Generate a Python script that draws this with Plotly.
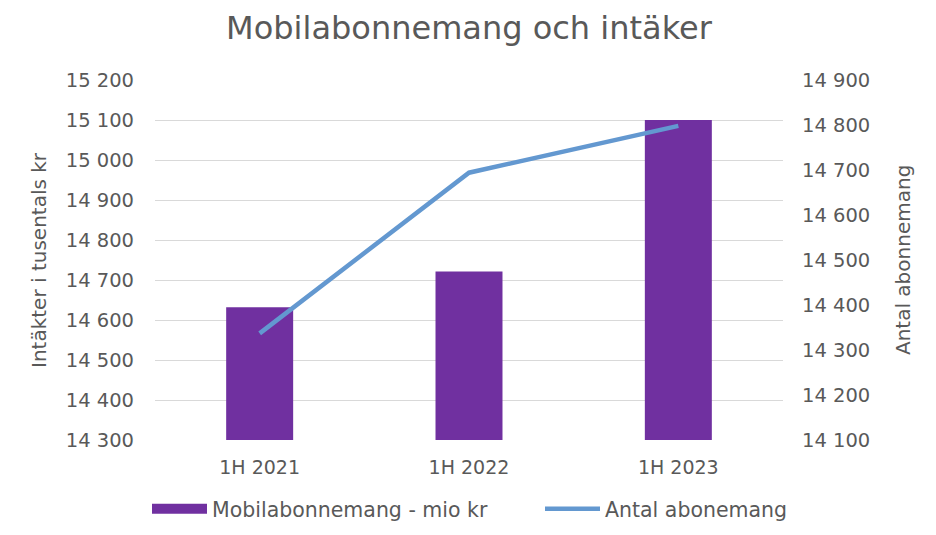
import plotly.graph_objects as go

categories = ["1H 2021", "1H 2022", "1H 2023"]
revenue = [14632, 14721, 15100]          # Mobilabonnemang - mio kr (left axis)
subscriptions = [14337, 14694, 14798]    # Antal abonemang (right axis)
left_ticks = list(range(14300, 15201, 100))
right_ticks = list(range(14100, 14901, 100))

grey = "#595959"
purple = "#7030A0"
blue = "#6398D0"
font_family = "DejaVu Sans, Liberation Sans, sans-serif"

# page body has an 8px margin, so the figure is sized to fit the 936x535 window
W, H = 920, 519
L, R, T, B = 147, 145, 72, 87
plot_w = W - L - R

fig = go.Figure()
fig.add_trace(go.Bar(
    x=categories, y=revenue, name="Mobilabonnemang - mio kr",
    marker=dict(color=purple, line=dict(width=0)), width=0.32, yaxis="y",
    showlegend=False,
))
# legend entry with wide rectangular swatch for the bars
fig.add_trace(go.Scatter(
    x=[None], y=[None], name="Mobilabonnemang - mio kr", mode="lines",
    line=dict(color=purple, width=13), yaxis="y", legend="legend",
))
fig.add_trace(go.Scatter(
    x=categories, y=subscriptions, name="Antal abonemang", mode="lines",
    line=dict(color=blue, width=4.5), yaxis="y2", legend="legend2",
))

legend_common = dict(orientation="h", xanchor="left", xref="container",
                     y=(H - 501) / H, yanchor="middle", yref="container",
                     itemwidth=55, font=dict(size=20.5, color=grey),
                     bgcolor="rgba(0,0,0,0)")

fig.update_layout(
    width=W, height=H,
    paper_bgcolor="white", plot_bgcolor="white",
    separators=", ",
    font=dict(family=font_family, color=grey, size=19),
    margin=dict(l=L, r=R, t=T, b=B, autoexpand=False),
    title=dict(text="Mobilabonnemang och intäker", x=0.5, xanchor="center",
               xref="paper", y=1 - 20 / H, yanchor="middle",
               font=dict(size=32, color=grey)),
    xaxis=dict(showgrid=False, showline=False, ticks="", ticklabelstandoff=14,
               tickfont=dict(size=19, color=grey)),
    yaxis=dict(range=[14300, 15200], tickvals=left_ticks, tickformat=",d",
               showgrid=True, gridcolor="#d9d9d9", gridwidth=1, zeroline=False,
               showline=False, ticks="", ticklabelstandoff=20,
               tickfont=dict(size=19.5, color=grey)),
    yaxis2=dict(range=[14100, 14900], tickvals=right_ticks, tickformat=",d",
                overlaying="y", side="right", showgrid=False, zeroline=False,
                showline=False, ticks="", ticklabelstandoff=18,
                tickfont=dict(size=19.5, color=grey)),
    legend=dict(x=(152 - 8 - 5) / W, **legend_common),
    legend2=dict(x=(545 - 8 - 5) / W, **legend_common),
    annotations=[
        dict(text="Intäkter i tusentals kr", textangle=-90, x=(31 - L) / plot_w,
             xref="paper", xanchor="center", y=0.5, yref="paper", showarrow=False,
             font=dict(size=20, color=grey)),
        dict(text="Antal abonnemang", textangle=-90, x=(895 - L) / plot_w,
             xref="paper", xanchor="center", y=0.5, yref="paper", showarrow=False,
             font=dict(size=20, color=grey)),
    ],
)

fig.write_html("out.html")
